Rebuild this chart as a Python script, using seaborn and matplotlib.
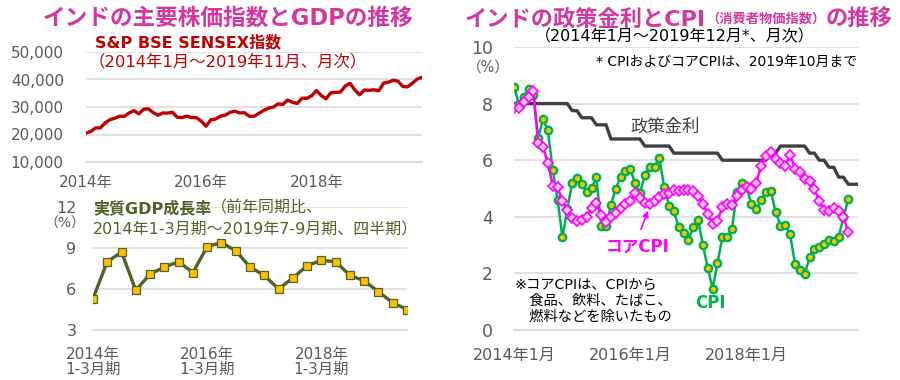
import numpy as np
import pandas as pd
import seaborn as sns
from matplotlib import pyplot as plt

# S&P BSE SENSEX, month-end, 2014/01 - 2019/11
sensex = [20514, 21120, 22386, 22418, 24217, 25414, 25895, 26638, 26631, 27866, 28694, 27499,
          29183, 29362, 27957, 27011, 27828, 27781, 28115, 26283, 26155, 26657, 26146, 26118,
          24871, 23002, 25342, 25607, 26668, 26999, 28052, 28452, 27866, 27930, 26653, 26626,
          27656, 28743, 29621, 29918, 31146, 30922, 32515, 31730, 31284, 33213, 33149, 34057,
          35965, 34184, 32969, 35160, 35322, 35423, 37607, 38645, 36227, 34442, 36194, 36068,
          36257, 35867, 38673, 39032, 39714, 39395, 37481, 37333, 38667, 40129, 40794]

# real GDP growth (%), 2014 Q1 - 2019 Q3
gdp = [5.3, 8.0, 8.7, 5.9, 7.1, 7.6, 8.0, 7.2, 9.1, 9.4, 8.8, 7.6,
       7.0, 6.0, 6.8, 7.7, 8.1, 8.0, 7.0, 6.6, 5.8, 5.0, 4.5]

# policy rate (%), 2014/01 - 2019/12
policy_rate = [8.0] * 12 + \
    [7.75, 7.75, 7.5, 7.5, 7.5, 7.25, 7.25, 7.25, 6.75, 6.75, 6.75, 6.75] + \
    [6.75, 6.75, 6.75, 6.5, 6.5, 6.5, 6.5, 6.5, 6.5, 6.25, 6.25, 6.25] + \
    [6.25] * 7 + [6.0] * 5 + \
    [6.0] * 5 + [6.25, 6.25] + [6.5] * 5 + \
    [6.5, 6.25, 6.25, 6.0, 6.0, 5.75, 5.75, 5.4, 5.4, 5.15, 5.15, 5.15]

# CPI (%), 2014/01 - 2019/10
cpi = [8.6, 8.0, 8.25, 8.5, 8.3, 6.8, 7.45, 7.05, 5.65, 4.6, 3.27, 4.28,
       5.19, 5.37, 5.17, 4.87, 5.01, 5.40, 3.69, 3.66, 4.41, 5.00, 5.41, 5.61,
       5.69, 5.18, 4.83, 5.47, 5.76, 5.77, 6.07, 5.05, 4.39, 4.20, 3.63, 3.41,
       3.17, 3.65, 3.89, 2.99, 2.18, 1.46, 2.36, 3.28, 3.28, 3.58, 4.88, 5.21,
       5.07, 4.44, 4.28, 4.58, 4.87, 4.92, 4.17, 3.69, 3.70, 3.38, 2.33, 2.11,
       1.97, 2.57, 2.86, 2.92, 3.05, 3.18, 3.15, 3.28, 3.99, 4.62]

# core CPI (%), 2014/01 - 2019/10
core_cpi = [7.85, 7.85, 8.05, 8.25, 8.45, 6.6, 6.45, 5.9, 5.1, 5.05, 4.55, 4.25,
            3.95, 3.85, 3.9, 4.0, 4.3, 4.5, 4.05, 3.8, 4.0, 4.15, 4.3, 4.45,
            4.55, 4.85, 4.65, 4.5, 4.45, 4.55, 4.7, 4.8, 4.85, 4.95, 4.9, 4.95,
            4.95, 4.9, 4.75, 4.45, 4.1, 3.75, 3.85, 4.35, 4.45, 4.4, 4.75, 4.95,
            5.05, 5.0, 5.2, 5.8, 6.15, 6.3, 6.05, 5.9, 5.8, 6.2, 5.7, 5.6,
            5.35, 5.25, 5.0, 4.55, 4.25, 4.2, 4.3, 4.2, 4.0, 3.45]

W, H = 900, 380
MAG = "#D4379F"
GRAY = "#595959"
GRID = "#D9D9D9"

sns.set_theme(style="white")
plt.rcParams["font.family"] = ["DejaVu Sans", "Noto Sans CJK JP"]

fig = plt.figure(figsize=(W / 100, H / 100), dpi=100)


def rect(x0, x1, y0, y1):
    return [x0 / W, 1 - y1 / H, (x1 - x0) / W, (y1 - y0) / H]


def fp(x, y):
    return x / W, 1 - y / H


def style_ax(ax):
    ax.set_xlabel("")
    ax.set_ylabel("")
    for s in ["left", "right", "top"]:
        ax.spines[s].set_visible(False)
    ax.spines["bottom"].set_color(GRID)
    ax.spines["bottom"].set_linewidth(1.2)
    ax.yaxis.grid(True, color=GRID, lw=1.1)
    ax.xaxis.grid(False)
    ax.tick_params(axis="x", direction="inout", length=6, width=1, color="#BFBFBF",
                   labelcolor=GRAY)
    ax.tick_params(axis="y", length=0, labelcolor=GRAY)


# ---- SENSEX
ax1 = fig.add_axes(rect(86, 422, 52, 162))
df1 = pd.DataFrame({"m": np.arange(len(sensex)), "v": sensex})
sns.lineplot(data=df1, x="m", y="v", ax=ax1, color="#C00000", lw=2.4)
ax1.set_xlim(0, 70)
ax1.set_ylim(10000, 50000)
ax1.set_yticks(range(10000, 50001, 10000))
ax1.set_yticklabels([f"{v:,}" for v in range(10000, 50001, 10000)])
xt = list(range(0, 70, 3))
ax1.set_xticks(xt)
ax1.set_xticklabels([{0: "2014年", 24: "2016年", 48: "2018年"}.get(t, "") for t in xt])
style_ax(ax1)
ax1.tick_params(axis="x", labelsize=11, pad=6)
ax1.tick_params(axis="y", labelsize=11, pad=16)

# ---- GDP
ax2 = fig.add_axes(rect(93, 407, 207, 330))
df2 = pd.DataFrame({"q": np.arange(len(gdp)), "v": gdp})
sns.lineplot(data=df2, x="q", y="v", ax=ax2, color="#4F6228", lw=2.4,
             marker="s", markersize=5.6, markerfacecolor="#FFC000",
             markeredgecolor="#4F6228", markeredgewidth=0.9)
ax2.set_xlim(0, 22)
ax2.set_ylim(3, 12)
ax2.set_yticks([3, 6, 9, 12])
qt = list(range(0, 23))
ax2.set_xticks(qt)
ax2.set_xticklabels([{0: "2014年\n1-3月期", 8: "2016年\n1-3月期", 16: "2018年\n1-3月期"}.get(t, "")
                     for t in qt], linespacing=1.0)
style_ax(ax2)
ax2.tick_params(axis="x", labelsize=11, pad=9)
ax2.tick_params(axis="y", labelsize=11.5, pad=12)

# ---- policy rate / CPI
ax3 = fig.add_axes(rect(514, 858, 47, 330))
df_p = pd.DataFrame({"m": np.arange(len(policy_rate)), "v": policy_rate})
df_c = pd.DataFrame({"m": np.arange(len(cpi)), "v": cpi})
df_k = pd.DataFrame({"m": np.arange(len(core_cpi)), "v": core_cpi})
sns.lineplot(data=df_p, x="m", y="v", ax=ax3, color="#404040", lw=2.4)
sns.lineplot(data=df_c, x="m", y="v", ax=ax3, color="#00B050", lw=1.8,
             marker="o", markersize=5.3, markerfacecolor="#FFC000",
             markeredgecolor="#00B050", markeredgewidth=1.7)
sns.lineplot(data=df_k, x="m", y="v", ax=ax3, color="#FF00FF", lw=1.8,
             marker="D", markersize=5.0, markerfacecolor="#FAC8FA",
             markeredgecolor="#FF00FF", markeredgewidth=1.2)
ax3.set_xlim(0, 71)
ax3.set_ylim(0, 10)
ax3.set_yticks(range(0, 11, 2))
mt = list(range(0, 72, 3))
ax3.set_xticks(mt)
ax3.set_xticklabels([{0: "2014年1月", 24: "2016年1月", 48: "2018年1月"}.get(t, "") for t in mt])
style_ax(ax3)
ax3.tick_params(axis="x", labelsize=11.5, pad=10)
ax3.tick_params(axis="y", labelsize=12.5, pad=15)

# ---- texts
r = fig.canvas.get_renderer()


def seq_text(x, y, parts):
    # parts: list of (text, fontsize, weight, color)
    for s, size, wt, col in parts:
        t = fig.text(*fp(x, y), s, fontsize=size, weight=wt, color=col, ha="left", va="center")
        x = t.get_window_extent(r).x1


fig.text(*fp(228, 18), "インドの主要株価指数とGDPの推移", fontsize=16.3, weight="bold",
         color=MAG, ha="center", va="center")
seq_text(465, 19, [("インドの政策金利とCPI", 16, "bold", MAG),
                   ("（消費者物価指数）", 9.5, "bold", MAG),
                   ("の推移", 16, "bold", MAG)])

fig.text(*fp(95, 42), "S&P BSE SENSEX指数", fontsize=11.5, weight="bold", color="#C00000",
         ha="left", va="center")
fig.text(*fp(89, 62), "（2014年1月～2019年11月、月次）", fontsize=11.8, color="#C00000",
         ha="left", va="center")

seq_text(93, 208, [("実質GDP成長率", 11.5, "bold", "#4F6228"),
                   ("（前年同期比、", 11.5, "normal", "#4F6228")])
fig.text(*fp(93, 230), "2014年1-3月期～2019年7-9月期、四半期）", fontsize=11.5, color="#4F6228",
         ha="left", va="center")
fig.text(*fp(65, 224), "（%）", fontsize=10, color=GRAY, ha="center", va="center")

fig.text(*fp(675, 37), "（2014年1月～2019年12月*、月次）", fontsize=11.5, color="black",
         ha="center", va="center")
fig.text(*fp(857, 62), "* CPIおよびコアCPIは、2019年10月まで", fontsize=10, color="black",
         ha="right", va="center")
fig.text(*fp(488, 67), "（%）", fontsize=10.5, color=GRAY, ha="center", va="center")
fig.text(*fp(665, 127), "政策金利", fontsize=12.5, color="#404040", ha="center", va="center")
fig.text(*fp(637, 247), "コアCPI", fontsize=12, weight="bold", color="#FF00FF",
         ha="center", va="center")
fig.text(*fp(710, 303), "CPI", fontsize=12, weight="bold", color="#00B050",
         ha="center", va="center")
fig.text(*fp(515, 301), "※コアCPIは、CPIから\n　食品、飲料、たばこ、\n　燃料などを除いたもの",
         fontsize=10.3, color="black", ha="left", va="center", linespacing=1.15)
fig.add_artist(plt.Annotation("", xy=fp(649, 208), xytext=fp(640, 232),
                              xycoords="figure fraction", textcoords="figure fraction",
                              arrowprops=dict(arrowstyle="-|>", color="#FF00FF", lw=1.2,
                                              mutation_scale=9)))

fig.savefig("out.png", dpi=100, facecolor="white")
